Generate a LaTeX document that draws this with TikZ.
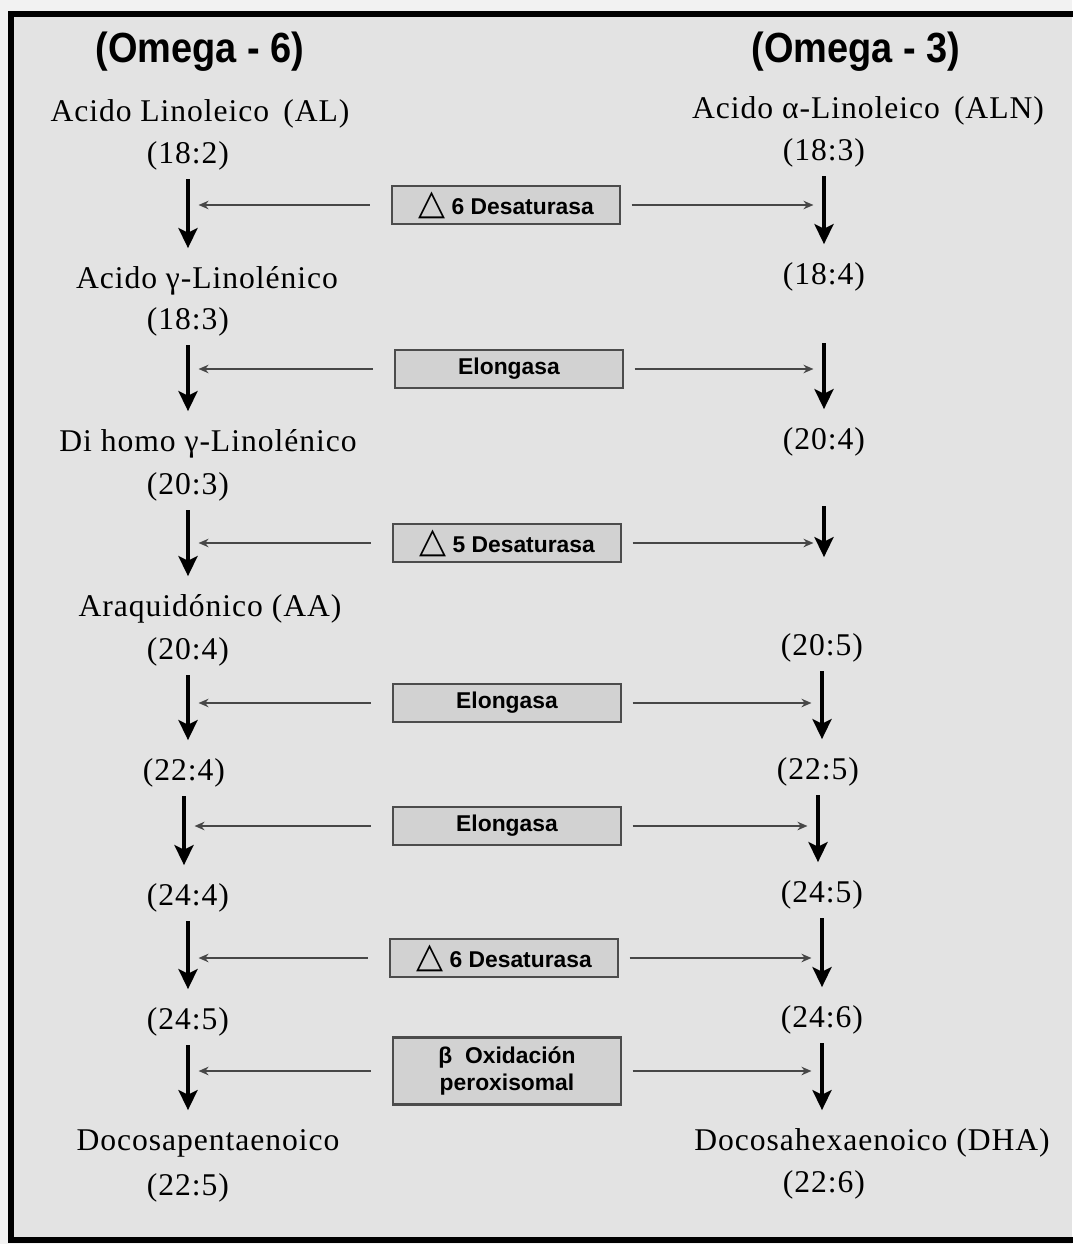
\documentclass[tikz,border=0pt]{standalone}
\usepackage{fontspec}
\setmainfont[LetterSpace=3]{Liberation Serif}
\newfontfamily\headfont[FakeStretch=0.9]{Liberation Sans}
\newfontfamily\enzfont{Liberation Sans}
\newfontfamily\symfont{DejaVu Sans}
\usepackage{xcolor}
\usetikzlibrary{arrows.meta, positioning}
\definecolor{paper}{HTML}{F2F2F2}
\definecolor{panel}{HTML}{E3E3E3}
\definecolor{enzfill}{HTML}{D2D2D2}
\newcommand{\deltri}{{\symfont\fontsize{20}{20}\selectfont △}}

\begin{document}
\begin{tikzpicture}[
  x=0.02cm, y=-0.02cm,
  head/.style={font=\headfont\bfseries\fontsize{24}{28}\selectfont, inner sep=2pt},
  lbl/.style={font=\fontsize{18}{21}\selectfont, inner sep=3pt,
              text height=13pt, text depth=4pt},
  enz/.style={draw=black!70, fill=enzfill, line width=1.3pt,
              minimum width=4.56cm, minimum height=0.76cm, inner sep=2pt,
              align=center, font=\enzfont\bfseries\fontsize{13}{15}\selectfont},
  varr/.style={-{Stealth[length=4mm, width=3.8mm, inset=0.9mm]}, line width=2.6pt,
               shorten <=1.5pt, shorten >=7pt},
  harr/.style={-{Stealth[length=2mm, width=1.7mm]}, line width=1.3pt, draw=black!72,
               shorten >=6pt},
]
  \useasboundingbox (0,0) rectangle (1072,1244);
  \fill[paper] (0,0) rectangle (1072,1244);
  \fill[panel] (11,14) rectangle (1072,1240);
  \draw[line width=3.4pt] (1080,14) -- (11,14) -- (11,1240) -- (1080,1240);

  \node[head] (h6) at (200,52) {(Omega - 6)};
  \node[head] (h3) at (856,52) {(Omega - 3)};

  \node[lbl] (l1) at (200,114) {Acido Linoleico\, (AL)};
  \node[lbl] (l1n) at (188,156) {(18:2)};
  \node[lbl] (l2) at (207,281) {Acido γ-Linolénico};
  \node[lbl] (l2n) at (188,322) {(18:3)};
  \node[lbl] (l3) at (208,444) {Di homo γ-Linolénico};
  \node[lbl] (l3n) at (188,487) {(20:3)};
  \node[lbl] (l4) at (210,609) {Araquidónico (AA)};
  \node[lbl] (l4n) at (188,652) {(20:4)};
  \node[lbl] (l5) at (184,773) {(22:4)};
  \node[lbl] (l6) at (188,898) {(24:4)};
  \node[lbl] (l7) at (188,1022) {(24:5)};
  \node[lbl] (l8) at (208,1143) {Docosapentaenoico};
  \node[lbl] (l8n) at (188,1188) {(22:5)};

  \node[lbl] (r1) at (868,111) {Acido α-Linoleico\, (ALN)};
  \node[lbl] (r1n) at (824,153) {(18:3)};
  \node[lbl] (r2) at (824,277) {(18:4)};
  \node[lbl] (r3) at (824,442) {(20:4)};
  \node[lbl] (r4) at (822,648) {(20:5)};
  \node[lbl] (r5) at (818,772) {(22:5)};
  \node[lbl] (r6) at (822,895) {(24:5)};
  \node[lbl] (r7) at (822,1020) {(24:6)};
  \node[lbl] (r8) at (872,1143) {Docosahexaenoico (DHA)};
  \node[lbl] (r8n) at (824,1185) {(22:6)};

  \node[enz] (d6a) at (506,205) {\deltri\ 6 Desaturasa};
  \node[enz] (elo1) at (509,369) {Elongasa};
  \node[enz] (d5) at (507,543) {\deltri\ 5 Desaturasa};
  \node[enz] (elo2) at (507,703) {Elongasa};
  \node[enz] (elo3) at (507,826) {Elongasa};
  \node[enz] (d6b) at (504,958) {\deltri\ 6 Desaturasa};
  \node[enz, minimum height=1.34cm] (betaox) at (507,1071) {β\ \ Oxidación\\peroxisomal};

  \draw[varr] (l1n.south) -- (l1n.south |- l2.north);
  \draw[varr] (l2n.south) -- (l2n.south |- l3.north);
  \draw[varr] (l3n.south) -- (l3n.south |- l4.north);
  \draw[varr] (l4n.south) -- (l4n.south |- l5.north);
  \draw[varr] (l5.south) -- (l5.south |- l6.north);
  \draw[varr] (l6.south) -- (l6.south |- l7.north);
  \draw[varr] (l7.south) -- (l7.south |- l8.north);

  \draw[varr] (r1n.south) -- (r1n.south |- r2.north);
  \draw[varr, shorten <=26pt] (r2.south) -- (r2.south |- r3.north);
  \draw[varr, shorten <=25pt, shorten >=40pt] (r3.south) -- (r3.south |- r4.north);
  \draw[varr] (r4.south) -- (r4.south |- r5.north);
  \draw[varr] (r5.south) -- (r5.south |- r6.north);
  \draw[varr] (r6.south) -- (r6.south |- r7.north);
  \draw[varr] (r7.south) -- (r7.south |- r8.north);

  \foreach \e/\a/\b in {d6a/l1n/r1n, elo1/l2n/r2, d5/l3n/r3, elo2/l4n/r4,
                        elo3/l5/r5, d6b/l6/r6, betaox/l7/r7} {
    \draw[harr] ([xshift=-12pt]\e.west) -- (\e.west -| \a.south);
    \draw[harr] ([xshift=6pt]\e.east) -- (\e.east -| \b.south);
  }
\end{tikzpicture}
\end{document}
